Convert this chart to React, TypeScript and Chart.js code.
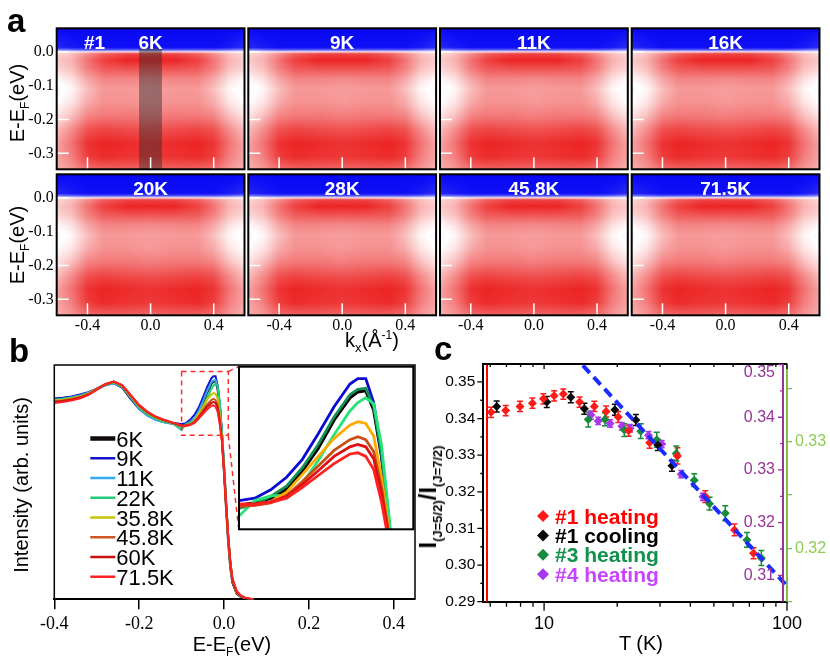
import React, { useEffect, useRef } from "react";
import { Chart, registerables } from "chart.js";

Chart.register(...registerables);

const SANS = "Liberation Sans";
const SERIF = "Liberation Serif";

// ---------------- panel a : ARPES maps ----------------
const MAP_TEMPS = ["6K", "9K", "11K", "16K", "20K", "28K", "45.8K", "71.5K"];
const K_GRID = [-0.6, -0.5, -0.4, -0.3, -0.15, 0, 0.15, 0.3, 0.4, 0.5, 0.6];
const E_GRID = [0.07, 0.012, 0.004, 0, -0.006, -0.025, -0.05, -0.08, -0.11, -0.15, -0.19, -0.23, -0.27, -0.31, -0.35];
// -1 = blue, 0 = white, 1 = red
const MAP_INTENSITY = [
  [-0.97, -0.97, -0.97, -0.97, -0.97, -0.97, -0.97, -0.97, -0.97, -0.97, -0.97],
  [-0.85, -0.9, -0.94, -0.94, -0.94, -0.94, -0.94, -0.94, -0.94, -0.9, -0.82],
  [-0.4, -0.5, -0.6, -0.6, -0.6, -0.6, -0.6, -0.6, -0.6, -0.5, -0.35],
  [0.0, 0.02, 0.06, 0.1, 0.1, 0.1, 0.1, 0.1, 0.06, 0.02, 0.0],
  [0.15, 0.25, 0.45, 0.62, 0.72, 0.74, 0.72, 0.62, 0.45, 0.25, 0.15],
  [0.2, 0.3, 0.55, 0.75, 0.86, 0.86, 0.86, 0.75, 0.55, 0.3, 0.2],
  [0.15, 0.25, 0.5, 0.65, 0.68, 0.68, 0.68, 0.65, 0.5, 0.25, 0.15],
  [0.02, 0.12, 0.35, 0.48, 0.48, 0.46, 0.48, 0.48, 0.35, 0.12, 0.02],
  [-0.04, 0.03, 0.25, 0.4, 0.4, 0.38, 0.4, 0.4, 0.25, 0.03, -0.04],
  [0.0, 0.1, 0.33, 0.43, 0.43, 0.4, 0.43, 0.43, 0.33, 0.1, 0.0],
  [0.1, 0.25, 0.48, 0.53, 0.53, 0.5, 0.53, 0.53, 0.48, 0.25, 0.1],
  [0.25, 0.45, 0.68, 0.73, 0.7, 0.68, 0.7, 0.73, 0.68, 0.45, 0.25],
  [0.35, 0.55, 0.8, 0.86, 0.83, 0.8, 0.83, 0.86, 0.8, 0.55, 0.35],
  [0.35, 0.5, 0.76, 0.83, 0.8, 0.78, 0.8, 0.83, 0.76, 0.5, 0.35],
  [0.3, 0.4, 0.55, 0.6, 0.6, 0.58, 0.6, 0.6, 0.55, 0.4, 0.3],
];
const K_RANGE = [-0.595, 0.595];
const E_RANGE = [-0.347, 0.069];
const K_TICKS = [-0.4, 0, 0.4];
const E_TICKS = [0, -0.1, -0.2, -0.3];
const CUT_K = [-0.073, 0.072];
const CUT_E_TOP = 0.01;

// ---------------- panel b : EDCs ----------------
const EDC_E = [
  -0.4, -0.38, -0.36, -0.34, -0.32, -0.3, -0.28, -0.26, -0.24, -0.22, -0.2, -0.18, -0.16, -0.14, -0.12,
  -0.1, -0.09, -0.08, -0.07, -0.06, -0.05, -0.04, -0.03, -0.025, -0.02, -0.015, -0.01, -0.005,
  0, 0.005, 0.01, 0.015, 0.02, 0.03, 0.04, 0.05, 0.06, 0.07,
];
const EDC_6K = [0.856, 0.858, 0.862, 0.868, 0.88, 0.898, 0.917, 0.927, 0.905, 0.858, 0.818, 0.79, 0.772, 0.76, 0.75,
  0.74, 0.744, 0.752, 0.767, 0.798, 0.836, 0.883, 0.92, 0.93, 0.932, 0.9, 0.822, 0.7, 0.555, 0.395, 0.25, 0.14, 0.072, 0.025, 0.01, 0.004, 0.001, 0];
const EDC_9K = [0.855, 0.86, 0.866, 0.874, 0.884, 0.898, 0.914, 0.922, 0.904, 0.855, 0.812, 0.784, 0.766, 0.756, 0.752,
  0.748, 0.752, 0.766, 0.787, 0.817, 0.86, 0.905, 0.943, 0.952, 0.952, 0.912, 0.825, 0.705, 0.56, 0.4, 0.255, 0.145, 0.075, 0.027, 0.011, 0.004, 0.001, 0];
const EDC_11K = [0.852, 0.856, 0.862, 0.87, 0.882, 0.896, 0.912, 0.922, 0.908, 0.862, 0.814, 0.784, 0.765, 0.754, 0.748,
  0.735, 0.742, 0.755, 0.772, 0.803, 0.842, 0.888, 0.925, 0.934, 0.936, 0.905, 0.826, 0.703, 0.56, 0.405, 0.262, 0.152, 0.08, 0.03, 0.012, 0.005, 0.001, 0];
const EDC_22K = [0.85, 0.855, 0.86, 0.868, 0.88, 0.897, 0.915, 0.925, 0.907, 0.862, 0.818, 0.789, 0.77, 0.758, 0.749,
  0.722, 0.748, 0.756, 0.757, 0.776, 0.815, 0.858, 0.898, 0.912, 0.92, 0.91, 0.84, 0.715, 0.575, 0.415, 0.268, 0.155, 0.08, 0.03, 0.012, 0.005, 0.001, 0];
const EDC_35K = [0.848, 0.852, 0.858, 0.866, 0.878, 0.897, 0.918, 0.928, 0.91, 0.866, 0.824, 0.795, 0.775, 0.762, 0.752,
  0.74, 0.742, 0.746, 0.762, 0.792, 0.822, 0.852, 0.874, 0.88, 0.877, 0.856, 0.786, 0.69, 0.555, 0.4, 0.258, 0.148, 0.078, 0.028, 0.012, 0.005, 0.002, 0];
const EDC_45K = [0.845, 0.849, 0.855, 0.863, 0.876, 0.896, 0.918, 0.929, 0.912, 0.868, 0.826, 0.797, 0.777, 0.763, 0.752,
  0.738, 0.74, 0.744, 0.756, 0.78, 0.806, 0.832, 0.85, 0.855, 0.85, 0.83, 0.77, 0.685, 0.55, 0.398, 0.258, 0.15, 0.08, 0.03, 0.013, 0.006, 0.002, 0];
const EDC_60K = [0.842, 0.846, 0.852, 0.86, 0.874, 0.895, 0.917, 0.929, 0.913, 0.87, 0.828, 0.798, 0.778, 0.764, 0.753,
  0.742, 0.743, 0.746, 0.755, 0.775, 0.798, 0.822, 0.838, 0.842, 0.838, 0.818, 0.76, 0.68, 0.548, 0.398, 0.26, 0.152, 0.082, 0.032, 0.014, 0.006, 0.002, 0];
const EDC_71K = [0.838, 0.842, 0.848, 0.857, 0.872, 0.894, 0.917, 0.929, 0.914, 0.872, 0.83, 0.8, 0.779, 0.765, 0.754,
  0.742, 0.741, 0.745, 0.752, 0.77, 0.79, 0.81, 0.826, 0.828, 0.822, 0.8, 0.745, 0.672, 0.545, 0.4, 0.265, 0.158, 0.088, 0.036, 0.016, 0.007, 0.003, 0];

const EDC_SERIES = [
  { label: "6K", values: EDC_6K, color: "#140a0a", inset: "#000000", width: 2.5 },
  { label: "9K", values: EDC_9K, color: "#1414c8", inset: "#0a0ad2", width: 2 },
  { label: "11K", values: EDC_11K, color: "#33aaee", inset: "#139055", width: 2 },
  { label: "22K", values: EDC_22K, color: "#22cc77", inset: "#28e27a", width: 2 },
  { label: "35.8K", values: EDC_35K, color: "#c8c400", inset: "#ffaa00", width: 2 },
  { label: "45.8K", values: EDC_45K, color: "#cc5522", inset: "#c85014", width: 2 },
  { label: "60K", values: EDC_60K, color: "#c81010", inset: "#dd1111", width: 2 },
  { label: "71.5K", values: EDC_71K, color: "#ff2222", inset: "#ff2020", width: 2 },
];
const EDC_X_TICKS = [-0.4, -0.2, 0, 0.2, 0.4];
const ZOOM_E = [-0.1, 0.01];
const ZOOM_I = [0.7, 0.972];
const INSET_CORNER_E = 0.0346;
const INSET_CORNER_I = [0.993, 0.299];

// ---------------- panel c : intensity ratio ----------------
const HEAT1_T = [6.05, 6.95, 7.96, 8.95, 9.93, 11.0, 12.0, 14.0, 16.1, 18.0, 20.2, 22.3, 27.2, 35.4, 46.1, 60.8, 72.8];
const HEAT1_R = [0.3417, 0.3422, 0.3433, 0.3442, 0.3454, 0.3462, 0.3467, 0.3445, 0.3433, 0.3419, 0.3404, 0.3367, 0.3334, 0.3298, 0.3187, 0.3096, 0.3032];
const HEAT1_ERR = [0.0014, 0.0014, 0.0014, 0.0014, 0.0014, 0.0014, 0.0014, 0.0014, 0.0014, 0.0015, 0.0015, 0.0015, 0.0015, 0.0022, 0.0016, 0.0016, 0.0015];
const COOL1_T = [6.38, 10.26, 12.88, 14.65, 19.56, 23.87, 29.4, 33.6];
const COOL1_R = [0.3433, 0.3445, 0.3458, 0.3427, 0.3424, 0.3396, 0.3328, 0.3271];
const COOL1_ERR = [0.0015, 0.0015, 0.0015, 0.0015, 0.0015, 0.0015, 0.0015, 0.0015];
const HEAT3_T = [15.2, 17.8, 21.4, 25.0, 29.1, 35.0, 41.5, 48.0, 55.7, 68.4, 78.4];
const HEAT3_R = [0.3321, 0.3321, 0.3311, 0.331, 0.3302, 0.3289, 0.3264, 0.3242, 0.3233, 0.3208, 0.3191];
const HEAT3_ERR = [0.0007, 0.0006, 0.0006, 0.0007, 0.0007, 0.0007, 0.0006, 0.0006, 0.0007, 0.0007, 0.0007];
const HEAT4_T = [15.6, 16.7, 18.7, 20.9, 22.6, 26.9, 30.5, 36.7, 45.1];
const HEAT4_R = [0.3404, 0.3393, 0.3388, 0.3383, 0.3379, 0.3366, 0.3349, 0.3292, 0.3249];
const HEAT4_ERR = [0.0008, 0.0007, 0.0007, 0.0007, 0.0007, 0.0007, 0.0007, 0.0007, 0.0007];
const FIT_T = [14.44, 100];
const FIT_R = [0.3545, 0.2943];
const RED_EDGE_T = 5.82;

const T_RANGE = [5.62, 100];
const R_RANGE = [0.29, 0.3549];
const P_RANGE = [0.305, 0.3501];
const G_RANGE = [0.315, 0.3373];
const T_TICKS = [10, 100];
const T_MINOR = [6, 7, 8, 9, 20, 30, 40, 50, 60, 70, 80, 90];
const R_TICKS = [0.29, 0.3, 0.31, 0.32, 0.33, 0.34, 0.35];
const R_MINOR = [0.295, 0.305, 0.315, 0.325, 0.335, 0.345];
const P_TICKS = [0.31, 0.32, 0.33, 0.34, 0.35];
const P_MINOR = [0.315, 0.325, 0.335, 0.345];
const G_TICKS = [0.315, 0.32, 0.325, 0.33, 0.335];

const RATIO_SERIES = [
  { label: "#1 heating", T: HEAT1_T, R: HEAT1_R, err: HEAT1_ERR, axis: "y", color: "#ff1a1a", text: "#ff0000" },
  { label: "#1 cooling", T: COOL1_T, R: COOL1_R, err: COOL1_ERR, axis: "y", color: "#0a0a0a", text: "#000000" },
  { label: "#3 heating", T: HEAT3_T, R: HEAT3_R, err: HEAT3_ERR, axis: "yG", color: "#178a3c", text: "#10924a" },
  { label: "#4 heating", T: HEAT4_T, R: HEAT4_R, err: HEAT4_ERR, axis: "yP", color: "#a838f0", text: "#c844ff" },
];
const PURPLE = "#993399";
const LIME = "#7cc24a";

// ---------------- helpers ----------------
type Box = { left: number; top: number; width: number; height: number };

function padFor(box: Box, l: number, t: number, r: number, b: number) {
  return { left: l - box.left, top: t - box.top, right: box.left + box.width - r, bottom: box.top + box.height - b };
}

function ChartBox({ box, build }: { box: Box; build: () => any }) {
  const ref = useRef<HTMLCanvasElement | null>(null);
  useEffect(() => {
    if (!ref.current) return;
    const chart = new Chart(ref.current, build());
    return () => chart.destroy();
  }, []);
  return (
    <div style={{ position: "absolute", left: box.left, top: box.top, width: box.width, height: box.height }}>
      <canvas ref={ref} />
    </div>
  );
}

function bracket(grid: number[], v: number): [number, number] {
  const asc = grid[grid.length - 1] > grid[0];
  for (let i = 0; i < grid.length - 1; i++) {
    const a = grid[i];
    const b = grid[i + 1];
    if ((asc && v <= b) || (!asc && v >= b)) {
      return [i, Math.min(1, Math.max(0, (v - a) / (b - a)))];
    }
  }
  return [grid.length - 2, 1];
}

function mapColour(v: number): [number, number, number] {
  if (v >= 0) {
    const c = Math.round(255 * (1 - v));
    return [Math.round(255 - 22 * v), c, c];
  }
  const c = Math.round(255 * (1 + v));
  return [c, c, Math.round(255 + 10 * v)];
}

function Label({ x, y, size = 20, bold = false, color = "#000", rotate = 0, children }: any) {
  return (
    <div
      style={{
        position: "absolute", left: x, top: y, fontSize: size, fontWeight: bold ? 700 : 400, color,
        lineHeight: 1, whiteSpace: "nowrap", fontFamily: SANS,
        transform: `translate(-50%, -50%) rotate(${rotate}deg)`,
      }}
    >
      {children}
    </div>
  );
}

// ---------------- panel a ----------------
const MAP_COLS = [56.7, 248.3, 440, 631.7];
const MAP_ROWS = [28.3, 174.3];
const MAP_W = 187.8;
const MAP_H = 141;

function mapPlugin(withCut: boolean) {
  return {
    id: "arpesMap",
    beforeDatasetsDraw(chart: any) {
      const { ctx, chartArea: a } = chart;
      const xs = chart.scales.x;
      const ys = chart.scales.y;
      const w = Math.round(a.right - a.left);
      const h = Math.round(a.bottom - a.top);
      const off = document.createElement("canvas");
      off.width = w;
      off.height = h;
      const o = off.getContext("2d")!;
      const img = o.createImageData(w, h);
      const kb = [];
      for (let i = 0; i < w; i++) kb.push(bracket(K_GRID, xs.getValueForPixel(a.left + i + 0.5)));
      for (let j = 0; j < h; j++) {
        const [ei, et] = bracket(E_GRID, ys.getValueForPixel(a.top + j + 0.5));
        const r0 = MAP_INTENSITY[ei];
        const r1 = MAP_INTENSITY[ei + 1];
        for (let i = 0; i < w; i++) {
          const [ki, kt] = kb[i];
          const top = r0[ki] * (1 - kt) + r0[ki + 1] * kt;
          const bot = r1[ki] * (1 - kt) + r1[ki + 1] * kt;
          const [R, G, B] = mapColour(top * (1 - et) + bot * et);
          const p = (j * w + i) * 4;
          img.data[p] = R;
          img.data[p + 1] = G;
          img.data[p + 2] = B;
          img.data[p + 3] = 255;
        }
      }
      o.putImageData(img, 0, 0);
      ctx.drawImage(off, a.left, a.top, a.right - a.left, a.bottom - a.top);
      ctx.save();
      if (withCut) {
        const x0 = xs.getPixelForValue(CUT_K[0]);
        const x1 = xs.getPixelForValue(CUT_K[1]);
        const y0 = ys.getPixelForValue(CUT_E_TOP);
        ctx.fillStyle = "rgba(45,45,45,0.45)";
        ctx.fillRect(x0, y0, x1 - x0, a.bottom - y0);
      }
      ctx.strokeStyle = "#ffffff";
      ctx.lineWidth = 1.5;
      ctx.beginPath();
      K_TICKS.forEach((k) => {
        const x = xs.getPixelForValue(k);
        ctx.moveTo(x, a.bottom);
        ctx.lineTo(x, a.bottom - 12);
      });
      E_TICKS.forEach((e) => {
        const y = ys.getPixelForValue(e);
        ctx.moveTo(a.left, y);
        ctx.lineTo(a.left + 12, y);
      });
      ctx.stroke();
      ctx.restore();
    },
    afterDraw(chart: any) {
      const { ctx, chartArea: a } = chart;
      ctx.save();
      ctx.strokeStyle = "#000";
      ctx.lineWidth = 2;
      ctx.strokeRect(a.left, a.top, a.right - a.left, a.bottom - a.top);
      ctx.restore();
    },
  };
}

function MapPanel({ index }: { index: number }) {
  const r = Math.floor(index / 4);
  const c = index % 4;
  const l = MAP_COLS[c];
  const t = MAP_ROWS[r];
  const box: Box = {
    left: c === 0 ? 0 : Math.floor(l) - 20,
    top: Math.max(0, Math.floor(t) - 24),
    width: c === 0 ? Math.ceil(l + MAP_W) + 20 : Math.ceil(MAP_W) + 40,
    height: Math.ceil(MAP_H) + 48,
  };
  const showX = r === 1;
  const showY = c === 0;
  const pad = padFor(box, l, t, l + MAP_W, t + MAP_H);
  const yWidth = pad.left;
  const xHeight = pad.bottom;
  if (showY) pad.left = 0;
  if (showX) pad.bottom = 0;
  const build = () => ({
    type: "scatter",
    data: { datasets: [] },
    options: {
      animation: false,
      responsive: true,
      maintainAspectRatio: false,
      events: [],
      layout: { padding: pad },
      plugins: { legend: { display: false }, tooltip: { enabled: false } },
      scales: {
        x: {
          type: "linear", min: K_RANGE[0], max: K_RANGE[1], display: showX,
          grid: { display: false, drawTicks: false }, border: { display: false },
          ticks: { font: { family: SERIF, size: 16 }, color: "#000", padding: 1, autoSkip: false, maxRotation: 0,
            callback: (v: any) => Number(v).toFixed(1) },
          afterBuildTicks: (s: any) => { s.ticks = K_TICKS.map((value) => ({ value })); },
          afterFit: (s: any) => { if (showX) s.height = xHeight; },
        },
        y: {
          type: "linear", min: E_RANGE[0], max: E_RANGE[1], display: showY,
          grid: { display: false, drawTicks: false }, border: { display: false },
          ticks: { font: { family: SERIF, size: 16 }, color: "#000", padding: 3, autoSkip: false,
            callback: (v: any) => Number(v).toFixed(1) },
          afterBuildTicks: (s: any) => { s.ticks = E_TICKS.map((value) => ({ value })); },
          afterFit: (s: any) => { if (showY) s.width = yWidth; },
        },
      },
    },
    plugins: [mapPlugin(index === 0)],
  });
  return <ChartBox box={box} build={build} />;
}

// ---------------- panel b ----------------
const SPEC_BOX: Box = { left: 0, top: 335, width: 440, height: 329 };
const SPEC_AREA = [54.3, 365, 415, 599.3];
const INSET_BOX: Box = { left: 225, top: 352, width: 200, height: 190 };
const INSET_AREA = [239, 366.7, 413.3, 529.3];

const specPlugin = {
  id: "specDecor",
  afterDraw(chart: any) {
    const { ctx, chartArea: a } = chart;
    const xs = chart.scales.x;
    const ys = chart.scales.y;
    ctx.save();
    ctx.strokeStyle = "#000";
    ctx.lineWidth = 1.5;
    ctx.beginPath();
    ctx.moveTo(a.left, a.bottom);
    ctx.lineTo(a.left, a.top);
    ctx.lineTo(a.right, a.top);
    ctx.lineTo(a.right, a.bottom);
    ctx.stroke();

    ctx.strokeStyle = "#ff2a2a";
    ctx.lineWidth = 1.5;
    ctx.setLineDash([5, 4]);
    const bx0 = xs.getPixelForValue(ZOOM_E[0]);
    const bx1 = xs.getPixelForValue(ZOOM_E[1]);
    const by0 = ys.getPixelForValue(ZOOM_I[1]);
    const by1 = ys.getPixelForValue(ZOOM_I[0]);
    ctx.strokeRect(bx0, by0, bx1 - bx0, by1 - by0);
    const cx = xs.getPixelForValue(INSET_CORNER_E);
    ctx.beginPath();
    ctx.moveTo(bx1, by0);
    ctx.lineTo(cx, ys.getPixelForValue(INSET_CORNER_I[0]));
    ctx.moveTo(bx1, by1);
    ctx.lineTo(cx, ys.getPixelForValue(INSET_CORNER_I[1]));
    ctx.stroke();
    ctx.setLineDash([]);

    // legend
    ctx.font = `22px "${SANS}"`;
    ctx.textBaseline = "alphabetic";
    ctx.textAlign = "left";
    EDC_SERIES.forEach((s, i) => {
      const y = a.top + 73.5 + i * 19.75;
      ctx.strokeStyle = s.color;
      ctx.lineWidth = i === 0 ? 4.5 : 2.5;
      ctx.beginPath();
      ctx.moveTo(a.left + 36, y);
      ctx.lineTo(a.left + 61, y);
      ctx.stroke();
      ctx.fillStyle = "#000";
      ctx.fillText(s.label, a.left + 62, y + 8);
    });
    ctx.restore();
  },
};

function edcDatasets(inset: boolean) {
  return EDC_SERIES.map((s, i) => ({
    label: s.label,
    data: EDC_E.map((e, j) => ({ x: e, y: s.values[j] })),
    showLine: true,
    borderColor: inset ? s.inset : s.color,
    backgroundColor: inset ? s.inset : s.color,
    borderWidth: inset ? s.width + 0.8 : s.width,
    pointRadius: 0,
    order: EDC_SERIES.length - 1 - i,
  }));
}

function SpectraPanel() {
  const pad = padFor(SPEC_BOX, SPEC_AREA[0], SPEC_AREA[1], SPEC_AREA[2], SPEC_AREA[3]);
  const xHeight = pad.bottom;
  pad.bottom = 0;
  const build = () => ({
    type: "scatter",
    data: { datasets: edcDatasets(false) },
    options: {
      animation: false,
      responsive: true,
      maintainAspectRatio: false,
      events: [],
      layout: { padding: pad },
      plugins: { legend: { display: false }, tooltip: { enabled: false } },
      scales: {
        x: {
          type: "linear", min: -0.4, max: 0.45,
          grid: { display: true, drawOnChartArea: false, drawTicks: true, tickLength: 10, color: "#000", lineWidth: 1.5 },
          border: { display: true, color: "#000", width: 2 },
          ticks: { font: { family: SERIF, size: 18 }, color: "#000", padding: 4, autoSkip: false, maxRotation: 0,
            callback: (v: any) => Number(v).toFixed(1) },
          afterBuildTicks: (s: any) => { s.ticks = EDC_X_TICKS.map((value) => ({ value })); },
          afterFit: (s: any) => { s.height = xHeight; },
        },
        y: { type: "linear", min: 0, max: 1, display: false },
      },
    },
    plugins: [specPlugin],
  });
  return <ChartBox box={SPEC_BOX} build={build} />;
}

const insetPlugin = {
  id: "insetFrame",
  beforeDatasetsDraw(chart: any) {
    const { ctx, chartArea: a } = chart;
    ctx.save();
    ctx.fillStyle = "#fff";
    ctx.fillRect(a.left, a.top, a.right - a.left, a.bottom - a.top);
    ctx.restore();
  },
  afterDraw(chart: any) {
    const { ctx, chartArea: a } = chart;
    ctx.save();
    ctx.strokeStyle = "#000";
    ctx.lineWidth = 2;
    ctx.strokeRect(a.left, a.top, a.right - a.left, a.bottom - a.top);
    ctx.restore();
  },
};

function InsetPanel() {
  const build = () => ({
    type: "scatter",
    data: { datasets: edcDatasets(true) },
    options: {
      animation: false,
      responsive: true,
      maintainAspectRatio: false,
      events: [],
      layout: { padding: padFor(INSET_BOX, INSET_AREA[0], INSET_AREA[1], INSET_AREA[2], INSET_AREA[3]) },
      plugins: { legend: { display: false }, tooltip: { enabled: false } },
      scales: {
        x: { type: "linear", min: ZOOM_E[0], max: ZOOM_E[1], display: false },
        y: { type: "linear", min: ZOOM_I[0], max: ZOOM_I[1], display: false },
      },
    },
    plugins: [insetPlugin],
  });
  return <ChartBox box={INSET_BOX} build={build} />;
}

// ---------------- panel c ----------------
const RATIO_BOX: Box = { left: 445, top: 335, width: 385, height: 329 };
const RATIO_AREA = [483.3, 364, 787, 601.7];

const ratioPlugin = {
  id: "ratioDecor",
  beforeDatasetsDraw(chart: any) {
    const { ctx, chartArea: a } = chart;
    const xs = chart.scales.x;
    ctx.save();
    const rx = xs.getPixelForValue(RED_EDGE_T);
    ctx.strokeStyle = "#ff0000";
    ctx.lineWidth = 2;
    ctx.beginPath();
    ctx.moveTo(rx, a.top);
    ctx.lineTo(rx, a.bottom);
    ctx.stroke();
    // error bars
    RATIO_SERIES.forEach((s) => {
      const ys = chart.scales[s.axis];
      ctx.strokeStyle = s.color;
      ctx.lineWidth = 1.5;
      ctx.beginPath();
      s.T.forEach((t, i) => {
        const x = xs.getPixelForValue(t);
        const y0 = ys.getPixelForValue(s.R[i] - s.err[i]);
        const y1 = ys.getPixelForValue(s.R[i] + s.err[i]);
        ctx.moveTo(x, y0);
        ctx.lineTo(x, y1);
        ctx.moveTo(x - 3, y0);
        ctx.lineTo(x + 3, y0);
        ctx.moveTo(x - 3, y1);
        ctx.lineTo(x + 3, y1);
      });
      ctx.stroke();
    });
    ctx.restore();
  },
  afterDraw(chart: any) {
    const { ctx, chartArea: a } = chart;
    const xs = chart.scales.x;
    const ys = chart.scales.y;
    const yp = chart.scales.yP;
    ctx.save();
    ctx.strokeStyle = "#000";
    ctx.lineWidth = 2;
    ctx.beginPath();
    ctx.moveTo(a.left, a.top);
    ctx.lineTo(a.right, a.top);
    ctx.stroke();
    ctx.lineWidth = 1.3;
    ctx.beginPath();
    R_TICKS.forEach((v) => { const y = ys.getPixelForValue(v); ctx.moveTo(a.left, y); ctx.lineTo(a.left - 6, y); });
    R_MINOR.forEach((v) => { const y = ys.getPixelForValue(v); ctx.moveTo(a.left, y); ctx.lineTo(a.left - 3, y); });
    T_TICKS.forEach((v) => {
      const x = xs.getPixelForValue(v);
      ctx.moveTo(x, a.bottom); ctx.lineTo(x, a.bottom + 9);
      ctx.moveTo(x, a.top); ctx.lineTo(x, a.top + 5);
    });
    T_MINOR.forEach((v) => {
      const x = xs.getPixelForValue(v);
      ctx.moveTo(x, a.bottom); ctx.lineTo(x, a.bottom + 5);
      ctx.moveTo(x, a.top); ctx.lineTo(x, a.top + 3);
    });
    ctx.stroke();

    // purple axis (sample #4)
    const px = a.right - 4;
    ctx.strokeStyle = PURPLE;
    ctx.fillStyle = PURPLE;
    ctx.lineWidth = 2;
    ctx.beginPath();
    ctx.moveTo(px, a.top);
    ctx.lineTo(px, a.bottom);
    ctx.stroke();
    ctx.lineWidth = 1.3;
    ctx.beginPath();
    P_TICKS.forEach((v) => { const y = yp.getPixelForValue(v); ctx.moveTo(px, y); ctx.lineTo(px - 5, y); });
    P_MINOR.forEach((v) => { const y = yp.getPixelForValue(v); ctx.moveTo(px, y); ctx.lineTo(px - 3, y); });
    ctx.stroke();
    ctx.font = `16px "${SANS}"`;
    ctx.textAlign = "right";
    ctx.textBaseline = "middle";
    P_TICKS.forEach((v) => {
      const y = Math.max(yp.getPixelForValue(v), a.top + 9);
      ctx.fillText(v.toFixed(2), px - 8, y);
    });

    // legend
    ctx.font = `bold 21px "${SANS}"`;
    ctx.textAlign = "left";
    ctx.textBaseline = "alphabetic";
    RATIO_SERIES.forEach((s, i) => {
      const cx = a.left + 59.7;
      const cy = a.top + 152 + i * 19.4;
      ctx.fillStyle = s.color;
      ctx.beginPath();
      ctx.moveTo(cx, cy - 6);
      ctx.lineTo(cx + 6, cy);
      ctx.lineTo(cx, cy + 6);
      ctx.lineTo(cx - 6, cy);
      ctx.closePath();
      ctx.fill();
      ctx.fillStyle = s.text;
      ctx.fillText(s.label, cx + 12, cy + 7.5);
    });
    ctx.restore();
  },
};

function RatioPanel() {
  const pad = padFor(RATIO_BOX, RATIO_AREA[0], RATIO_AREA[1], RATIO_AREA[2], RATIO_AREA[3]);
  const yWidth = pad.left;
  const xHeight = pad.bottom;
  const gWidth = pad.right;
  pad.left = 0;
  pad.bottom = 0;
  pad.right = 0;
  const datasets: any[] = RATIO_SERIES.map((s) => ({
    label: s.label,
    data: s.T.map((t, i) => ({ x: t, y: s.R[i] })),
    yAxisID: s.axis,
    pointStyle: "rectRot",
    pointRadius: 4.5,
    backgroundColor: s.color,
    borderColor: s.color,
    borderWidth: 0,
    order: 1,
  }));
  datasets.push({
    label: "fit",
    data: FIT_T.map((t, i) => ({ x: t, y: FIT_R[i] })),
    yAxisID: "y",
    showLine: true,
    borderColor: "#1a2cff",
    borderWidth: 4,
    borderDash: [10, 6],
    pointRadius: 0,
    order: 0,
  });
  const build = () => ({
    type: "scatter",
    data: { datasets },
    options: {
      animation: false,
      responsive: true,
      maintainAspectRatio: false,
      events: [],
      layout: { padding: pad },
      plugins: { legend: { display: false }, tooltip: { enabled: false } },
      scales: {
        x: {
          type: "logarithmic", min: T_RANGE[0], max: T_RANGE[1],
          grid: { display: false, drawTicks: false }, border: { display: true, color: "#000", width: 2 },
          ticks: { font: { family: SANS, size: 18 }, color: "#000", padding: 12, autoSkip: false, maxRotation: 0,
            callback: (v: any) => String(v) },
          afterBuildTicks: (s: any) => { s.ticks = T_TICKS.map((value) => ({ value })); },
          afterFit: (s: any) => { s.height = xHeight; },
        },
        y: {
          type: "linear", position: "left", min: R_RANGE[0], max: R_RANGE[1],
          grid: { display: false, drawTicks: false }, border: { display: true, color: "#000", width: 2 },
          ticks: { font: { family: SANS, size: 15.5 }, color: "#000", padding: 8, autoSkip: false,
            callback: (v: any) => Number(v).toFixed(2) },
          afterBuildTicks: (s: any) => { s.ticks = R_TICKS.map((value) => ({ value })); },
          afterFit: (s: any) => { s.width = yWidth; },
        },
        yP: { type: "linear", position: "right", min: P_RANGE[0], max: P_RANGE[1], display: false },
        yG: {
          type: "linear", position: "right", min: G_RANGE[0], max: G_RANGE[1],
          grid: { display: true, drawOnChartArea: false, drawTicks: true, tickLength: 5, color: LIME, lineWidth: 1.3 },
          border: { display: true, color: LIME, width: 2 },
          ticks: { font: { family: SANS, size: 16 }, color: "#8fcc55", padding: 3, autoSkip: false,
            callback: (v: any) => (Math.abs(v * 100 - Math.round(v * 100)) < 1e-6 ? Number(v).toFixed(2) : "") },
          afterBuildTicks: (s: any) => { s.ticks = G_TICKS.map((value) => ({ value })); },
          afterFit: (s: any) => { s.width = gWidth; },
        },
      },
    },
    plugins: [ratioPlugin],
  });
  return <ChartBox box={RATIO_BOX} build={build} />;
}

// ---------------- page ----------------
const MAP_CENTRES_X = [150.6, 342.2, 533.9, 725.6];
const MAP_TITLE_Y = [41.7, 187.7];

export default function App() {
  return (
    <div style={{ position: "absolute", left: 0, top: 0, width: 830, height: 664, overflow: "hidden", background: "#fff", fontFamily: SANS }}>
      {MAP_TEMPS.map((_, i) => <MapPanel key={i} index={i} />)}
      <SpectraPanel />
      <InsetPanel />
      <RatioPanel />

      {MAP_TEMPS.map((t, i) => (
        <Label key={t} x={MAP_CENTRES_X[i % 4]} y={MAP_TITLE_Y[Math.floor(i / 4)]} size={19} bold color="#fff">{t}</Label>
      ))}
      <Label x={94.5} y={41.7} size={19} bold color="#fff">#1</Label>

      <div style={{ position: "absolute", left: 7, top: 4, fontSize: 33, fontWeight: 700, lineHeight: 1 }}>a</div>
      <div style={{ position: "absolute", left: 9, top: 334, fontSize: 33, fontWeight: 700, lineHeight: 1 }}>b</div>
      <div style={{ position: "absolute", left: 434, top: 332, fontSize: 33, fontWeight: 700, lineHeight: 1 }}>c</div>

      {[103, 245].map((y) => (
        <Label key={y} x={17} y={y} rotate={-90}>
          E-E<span style={{ fontSize: 12, position: "relative", top: 5 }}>F</span>(eV)
        </Label>
      ))}
      <Label x={372} y={340}>
        k<span style={{ fontSize: 13, position: "relative", top: 5 }}>x</span>(Å
        <span style={{ fontSize: 12, position: "relative", top: -8 }}>-1</span>)
      </Label>

      <Label x={21} y={485} rotate={-90}>Intensity (arb. units)</Label>
      <Label x={232} y={644}>
        E-E<span style={{ fontSize: 12, position: "relative", top: 5 }}>F</span>(eV)
      </Label>

      <Label x={428} y={497} rotate={-90} bold>
        <span style={{ fontSize: 24 }}>I</span>
        <span style={{ fontSize: 13, position: "relative", top: 6 }}>(J=5/2)</span>
        <span style={{ fontSize: 24 }}>/I</span>
        <span style={{ fontSize: 13, position: "relative", top: 6 }}>(J=7/2)</span>
      </Label>
      <Label x={641} y={643}>T (K)</Label>
    </div>
  );
}
